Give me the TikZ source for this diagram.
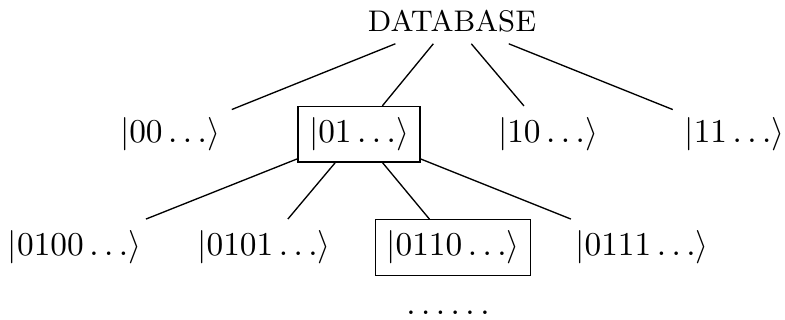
\documentclass[tikz,border=0pt]{standalone}
\begin{document}
\begin{tikzpicture}[x=1pt,y=1pt,
  every node/.style={inner sep=3.33pt,font=\fontsize{9.75}{12}\selectfont},
  boxed/.style={draw},
  edge/.style={draw,line width=0.4pt}]
\useasboundingbox (0,0) rectangle (235.5,-96);
\node[font=\fontsize{8.95}{11}\selectfont] (db) at (135.6,-6.3) {DATABASE};
\node (a) at (51,-40.3) {$|00\ldots\rangle$};
\node[boxed] (b) at (107.7,-40.3) {$|01\ldots\rangle$};
\node (c) at (164.4,-40.3) {$|10\ldots\rangle$};
\node (d) at (220.35,-40.3) {$|11\ldots\rangle$};
\node (e) at (22.35,-74.25) {$|0100\ldots\rangle$};
\node (f) at (79.2,-74.25) {$|0101\ldots\rangle$};
\node[boxed] (g) at (135.9,-74.25) {$|0110\ldots\rangle$};
\node (h) at (192.6,-74.25) {$|0111\ldots\rangle$};
\node[anchor=base] (dots) at (134.4,-94.2) {$\ldots\ldots$};
\draw[edge] (db) -- (a);
\draw[edge] (db) -- (b);
\draw[edge] (db) -- (c);
\draw[edge] (db) -- (d);
\draw[edge] (b) -- (e);
\draw[edge] (b) -- (f);
\draw[edge] (b) -- (g);
\draw[edge] (b) -- (h);
\end{tikzpicture}
\end{document}
